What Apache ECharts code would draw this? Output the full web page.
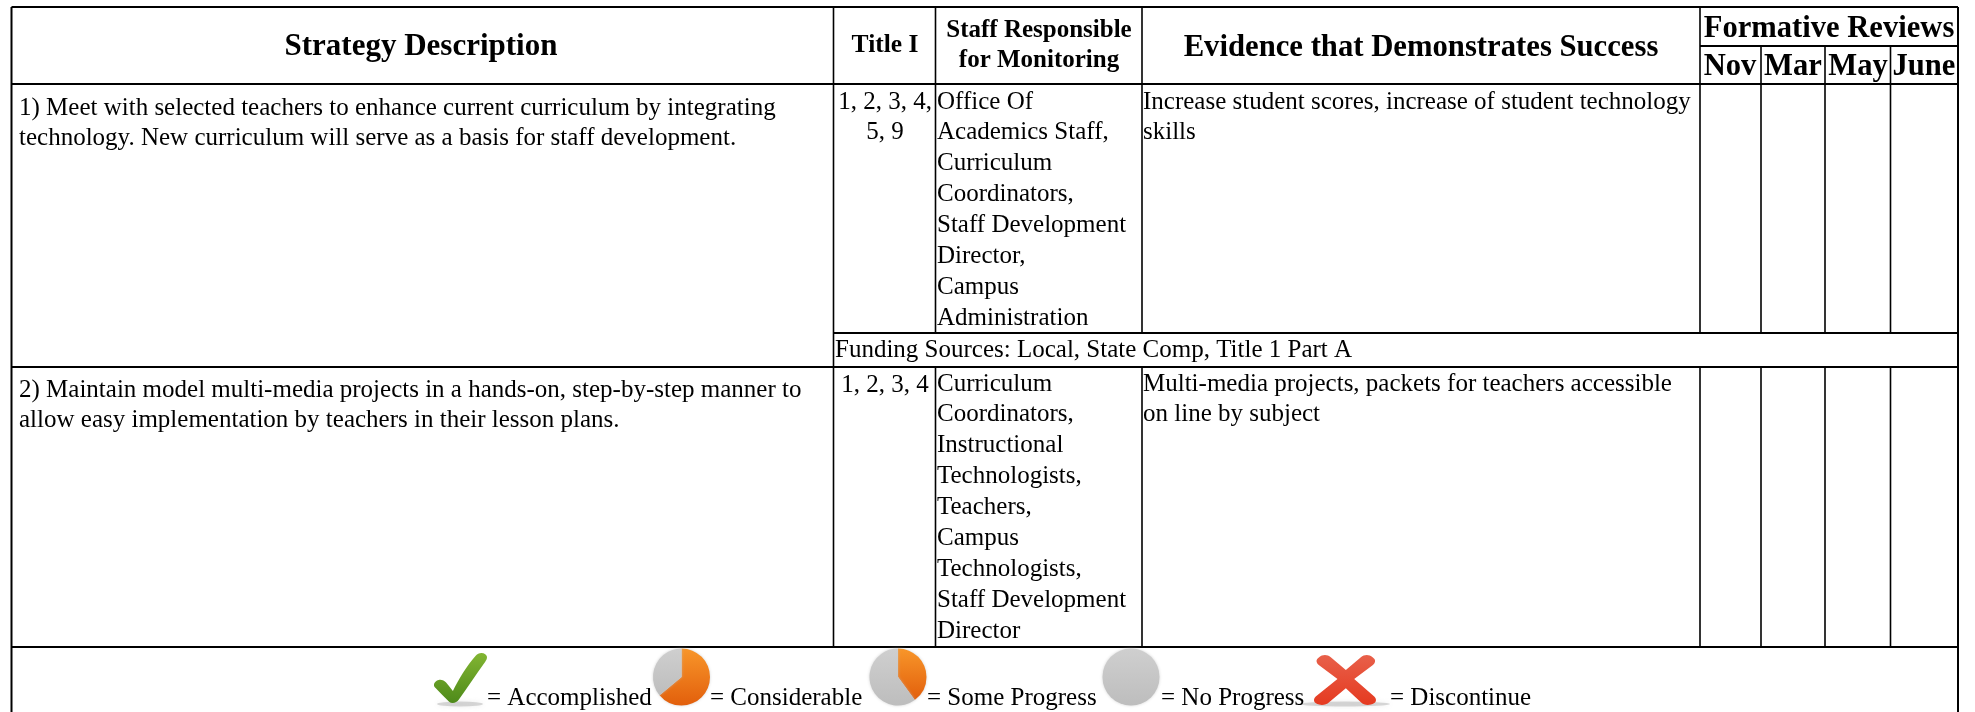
<!DOCTYPE html>
<html>
<head>
<meta charset="utf-8">
<style>html,body{margin:0;padding:0;background:#fff}#c{width:1975px;height:712px}</style>
<script src="https://cdn.jsdelivr.net/npm/echarts@6/dist/echarts.min.js"></script>
</head>
<body>
<div id="c"></div>
<script>
// ---- content ----
const columnHeaders = ["Strategy Description", "Title I", "Staff Responsible\nfor Monitoring", "Evidence that Demonstrates Success"];
const reviewHeader = "Formative Reviews";
const reviewMonths = ["Nov", "Mar", "May", "June"];
const strategies = [
  ["1) Meet with selected teachers to enhance current curriculum by integrating", "technology. New curriculum will serve as a basis for staff development."],
  ["2) Maintain model multi-media projects in a hands-on, step-by-step manner to", "allow easy implementation by teachers in their lesson plans."]
];
const titleRefs = [["1, 2, 3, 4,", "5, 9"], ["1, 2, 3, 4"]];
const staff = [
  ["Office Of", "Academics Staff,", "Curriculum", "Coordinators,", "Staff Development", "Director,", "Campus", "Administration"],
  ["Curriculum", "Coordinators,", "Instructional", "Technologists,", "Teachers,", "Campus", "Technologists,", "Staff Development", "Director"]
];
const evidence = [
  ["Increase student scores, increase of student technology", "skills"],
  ["Multi-media projects, packets for teachers accessible", "on line by subject"]
];
const fundingLine = "Funding Sources: Local, State Comp, Title 1 Part A";
const legendLabels = ["= Accomplished", "= Considerable", "= Some Progress", "= No Progress", "= Discontinue"];
const considerableShare = [64, 36];
const someProgressShare = [40, 60];
const noProgressShare = [100];

// ---- layout (pixel-scaled axes: 0..1975, 0..712) ----
const colX = [11.5, 833.5, 935.5, 1142, 1700, 1761, 1825, 1890.5, 1958];
const rowY = {top: 7, head: 84, mid: 46, fund: 333, r2: 367, bot: 647, end: 712};
const LH = 30.9, FS = 25, SERIF = '"Liberation Serif"';

const rules = [
  [colX[0], rowY.top, colX[8], rowY.top, 2],
  [colX[0], rowY.head, colX[8], rowY.head, 2],
  [colX[4], rowY.mid, colX[8], rowY.mid, 2],
  [colX[1], rowY.fund, colX[8], rowY.fund, 2],
  [colX[0], rowY.r2, colX[8], rowY.r2, 2],
  [colX[0], rowY.bot, colX[8], rowY.bot, 2],
  [colX[0], rowY.top, colX[0], rowY.end, 2],
  [colX[8], rowY.top, colX[8], rowY.end, 2],
  [colX[1], rowY.top, colX[1], rowY.bot, 1.6]
];
[2, 3, 4].forEach(c => {
  rules.push([colX[c], rowY.top, colX[c], rowY.fund, 1.6], [colX[c], rowY.r2, colX[c], rowY.bot, 1.6]);
});
[5, 6, 7].forEach(c => {
  rules.push([colX[c], rowY.mid, colX[c], rowY.fund, 1.6], [colX[c], rowY.r2, colX[c], rowY.bot, 1.6]);
});

const texts = [];
function put(x, y, s, align, size, bold) { texts.push([x, y, s, align, size, bold ? 1 : 0]); }
function block(x, y, lines, align) { lines.forEach((s, i) => put(x, y + i * LH, s, align, FS, false)); }

put(421, 47, columnHeaders[0], 'center', 31, true);
put(885, 45, columnHeaders[1], 'center', 25.5, true);
columnHeaders[2].split("\n").forEach((s, i) => put(1039, 31 + i * 30, s, 'center', 25, true));
put(1421, 48, columnHeaders[3], 'center', 30.7, true);
put(1829, 29, reviewHeader, 'center', 30.6, true);
[1730, 1793, 1858, 1924].forEach((x, i) => put(x, 67, reviewMonths[i], 'center', 30.6, true));

block(19, 108, strategies[0], 'left');
block(19, 390, strategies[1], 'left');
block(885, 102, titleRefs[0], 'center');
block(885, 385, titleRefs[1], 'center');
block(937, 102, staff[0], 'left');
block(937, 384, staff[1], 'left');
block(1143, 102, evidence[0], 'left');
block(1143, 384, evidence[1], 'left');
put(835, 350, fundingLine, 'left', FS, false);
[487, 710, 927, 1161, 1390].forEach((x, i) => put(x, 698, legendLabels[i], 'left', FS, false));

const checkPath = 'path://M2,62 C-2,58 0,50 6,48 C12,46 16,52 19,57 L25,67 C32,48 44,22 55,6 C58,1 64,-1 68,3 C72,7 70,12 68,16 C56,38 44,62 33,82 C30,88 24,90 20,86 C14,78 8,70 2,62 Z';
const crossPath = 'path://M8,4 C12,-1 18,-1 22,4 L40,26 L58,4 C62,-1 68,-1 72,4 C76,8 76,13 72,18 L50,42 L74,72 C78,78 76,84 70,86 C65,88 61,86 58,82 L40,58 L20,82 C17,86 12,88 8,86 C2,84 0,78 4,72 L30,42 L8,18 C4,13 4,8 8,4 Z';
const vGrad = (a, b) => new echarts.graphic.LinearGradient(0, 0, 0, 1, [{offset: 0, color: a}, {offset: 1, color: b}]);
const orange = vGrad('#f8962a', '#e25f0c');
const grey = vGrad('#cfcfcf', '#bdbdbd');

function pie(cx, data, colors) {
  return {
    type: 'pie', center: [cx, 677], radius: [0, 28.5], silent: true, animation: false, startAngle: 90, clockwise: true,
    label: {show: false}, labelLine: {show: false}, itemStyle: {borderWidth: 0, shadowBlur: 3, shadowColor: 'rgba(190,190,190,0.7)'},
    data: data.map((v, i) => ({value: v, itemStyle: {color: colors[i]}}))
  };
}
function shadow(x, w) {
  return {
    type: 'scatter', silent: true, symbol: 'circle', symbolSize: [w, 5], z: 1,
    itemStyle: {color: 'rgba(150,150,150,0.35)', opacity: 1, shadowBlur: 5, shadowColor: 'rgba(150,150,150,0.5)'},
    data: [[x, 704]]
  };
}

const chart = echarts.init(document.getElementById('c'), null, {renderer: 'canvas'});
chart.setOption({
  animation: false,
  backgroundColor: '#ffffff',
  grid: {left: 0, right: 0, top: 0, bottom: 0},
  xAxis: {type: 'value', min: 0, max: 1975, show: false},
  yAxis: {type: 'value', min: 0, max: 712, inverse: true, show: false},
  series: [
    {
      type: 'custom', silent: true, data: rules, encode: {x: 0, y: 1},
      renderItem(p, api) {
        const a = api.coord([api.value(0), api.value(1)]), b = api.coord([api.value(2), api.value(3)]);
        return {type: 'line', shape: {x1: a[0], y1: a[1], x2: b[0], y2: b[1]}, style: {stroke: '#000', lineWidth: api.value(4)}};
      }
    },
    {
      type: 'custom', silent: true, data: texts, encode: {x: 0, y: 1}, clip: false,
      dimensions: ['x', 'y', {name: 's', type: 'ordinal'}, {name: 'a', type: 'ordinal'}, 'size', 'bold'],
      renderItem(p, api) {
        const t = texts[p.dataIndex], c = api.coord([t[0], t[1]]);
        return {type: 'text', x: c[0], y: c[1], style: {
          text: t[2], fill: '#000', align: t[3], verticalAlign: 'middle',
          font: (t[5] ? 'bold ' : '') + t[4] + 'px ' + SERIF
        }};
      }
    },
    pie(681.5, considerableShare, [orange, grey]),
    pie(898, someProgressShare, [orange, grey]),
    pie(1131, noProgressShare, [grey]),
    shadow(460, 46),
    shadow(1345, 90),
    {
      type: 'scatter', silent: true, symbol: checkPath, symbolSize: [53, 50], symbolKeepAspect: false, z: 3,
      itemStyle: {color: vGrad('#82b532', '#4e8a1a'), opacity: 1}, data: [[460.5, 678]]
    },
    {
      type: 'scatter', silent: true, symbol: crossPath, symbolSize: [62, 50], symbolKeepAspect: false, z: 3,
      itemStyle: {color: vGrad('#e8604a', '#e53a20'), opacity: 1}, data: [[1345, 680]]
    }
  ]
});
</script>
</body>
</html>
